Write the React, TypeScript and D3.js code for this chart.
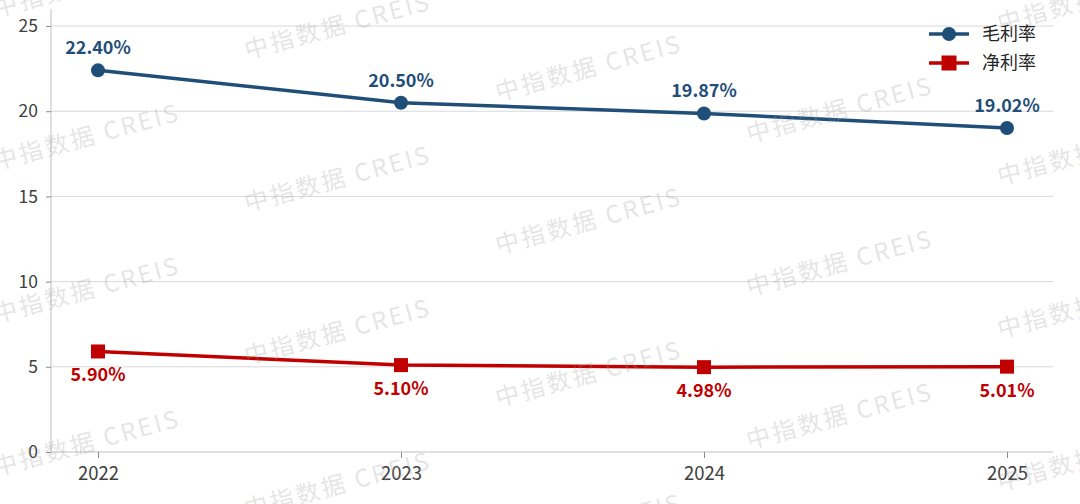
import React, { useRef, useEffect } from 'react';
import * as d3 from 'd3';

const years = ['2022', '2023', '2024', '2025'];
const grossMargin = [22.4, 20.5, 19.87, 19.02];
const netMargin = [5.9, 5.1, 4.98, 5.01];
const yTicks = [0, 5, 10, 15, 20, 25];
const seriesNames = ['毛利率', '净利率'];

const WIDTH = 1080;
const HEIGHT = 504;
const BLUE = '#1f4e79';
const RED = '#c00000';
const FONT = '"Noto Sans CJK SC", "Noto Sans", sans-serif';

const App: React.FC = () => {
  const svgRef = useRef<SVGSVGElement>(null);

  useEffect(() => {
    if (!svgRef.current) return;
    const svg = d3.select(svgRef.current);
    svg.selectAll('*').remove();

    const left = 51;
    const right = 1053;

    const x = d3.scalePoint<string>().domain(years).range([98, 1007]);
    const y = d3.scaleLinear().domain([0, 26]).range([452, 9]);

    svg.append('rect').attr('width', WIDTH).attr('height', HEIGHT).attr('fill', '#ffffff');

    // Grid lines
    svg
      .append('g')
      .selectAll('line')
      .data(yTicks.filter((t) => t > 0))
      .join('line')
      .attr('x1', left)
      .attr('x2', right)
      .attr('y1', (d) => y(d))
      .attr('y2', (d) => y(d))
      .attr('stroke', '#d9d9d9')
      .attr('stroke-width', 1);

    // Y axis
    const yAxis = d3
      .axisLeft(y)
      .tickValues(yTicks)
      .tickSize(5)
      .tickPadding(8)
      .tickFormat((d) => String(d));
    const yg = svg.append('g').attr('transform', `translate(${left},0)`).call(yAxis);
    yg.select('.domain').attr('stroke', '#bfbfbf').attr('d', `M0,${y(0)}V9`);
    yg.selectAll('.tick line').attr('stroke', '#8c8c8c');
    yg.selectAll('.tick text')
      .attr('fill', '#404040')
      .style('font-size', '17.5px')
      .style('font-family', FONT);

    // X axis
    const xAxis = d3.axisBottom(x).tickSize(6).tickPadding(9);
    const xg = svg.append('g').attr('transform', `translate(0,${y(0)})`).call(xAxis);
    xg.select('.domain').attr('stroke', '#bfbfbf').attr('d', `M${left},0H${right}`);
    xg.selectAll('.tick line').attr('stroke', '#8c8c8c');
    xg.selectAll('.tick text')
      .attr('fill', '#404040')
      .style('font-size', '18.5px')
      .style('font-family', FONT);

    const line = d3
      .line<number>()
      .x((_, i) => x(years[i]) as number)
      .y((d) => y(d));

    // Gross margin
    svg
      .append('path')
      .datum(grossMargin)
      .attr('d', line)
      .attr('fill', 'none')
      .attr('stroke', BLUE)
      .attr('stroke-width', 3.5);
    svg
      .append('g')
      .selectAll('circle')
      .data(grossMargin)
      .join('circle')
      .attr('cx', (_, i) => x(years[i]) as number)
      .attr('cy', (d) => y(d))
      .attr('r', 7)
      .attr('fill', BLUE);
    svg
      .append('g')
      .selectAll('text')
      .data(grossMargin)
      .join('text')
      .attr('x', (_, i) => x(years[i]) as number)
      .attr('y', (d) => y(d) - 16)
      .attr('text-anchor', 'middle')
      .attr('fill', BLUE)
      .style('font-size', '18px')
      .style('font-weight', 'bold')
      .style('font-family', FONT)
      .text((d) => `${d.toFixed(2)}%`);

    // Net margin
    svg
      .append('path')
      .datum(netMargin)
      .attr('d', line)
      .attr('fill', 'none')
      .attr('stroke', RED)
      .attr('stroke-width', 3.5);
    svg
      .append('g')
      .selectAll('rect')
      .data(netMargin)
      .join('rect')
      .attr('x', (_, i) => (x(years[i]) as number) - 7)
      .attr('y', (d) => y(d) - 7)
      .attr('width', 14)
      .attr('height', 14)
      .attr('fill', RED);
    svg
      .append('g')
      .selectAll('text')
      .data(netMargin)
      .join('text')
      .attr('x', (_, i) => x(years[i]) as number)
      .attr('y', (d) => y(d) + 30)
      .attr('text-anchor', 'middle')
      .attr('fill', RED)
      .style('font-size', '18px')
      .style('font-weight', 'bold')
      .style('font-family', FONT)
      .text((d) => `${d.toFixed(2)}%`);

    // Legend
    const legend = svg.append('g').attr('transform', 'translate(929,34)');
    seriesNames.forEach((name, i) => {
      const row = legend.append('g').attr('transform', `translate(0,${i * 29})`);
      const color = i === 0 ? BLUE : RED;
      row.append('line').attr('x1', 0).attr('x2', 40).attr('stroke', color).attr('stroke-width', 3.5);
      if (i === 0) {
        row.append('circle').attr('cx', 20).attr('r', 7).attr('fill', color);
      } else {
        row.append('rect').attr('x', 12.5).attr('y', -7.5).attr('width', 15).attr('height', 15).attr('fill', color);
      }
      row
        .append('text')
        .attr('x', 53)
        .attr('dy', '0.35em')
        .attr('fill', '#262626')
        .style('font-size', '18px')
        .style('font-family', FONT)
        .text(name);
    });

    // Watermark (repeated, partly cut at the edges like the original)
    const wm = svg.append('g').attr('pointer-events', 'none');
    for (let k = 0; k < 5; k++) {
      for (let j = -2; j < 4; j++) {
        const wx = -4 + 251 * k;
        const wy = 170 + 42 * k + 153 * j;
        wm.append('text')
          .attr('transform', `translate(${wx},${wy}) rotate(-15)`)
          .attr('fill', '#9a9a9a')
          .attr('fill-opacity', 0.27)
          .style('font-size', '24px')
          .style('letter-spacing', '2.5px')
          .style('font-family', FONT)
          .text('中指数据  CREIS');
      }
    }
  }, []);

  return (
    <svg
      ref={svgRef}
      width={WIDTH}
      height={HEIGHT}
      style={{ position: 'fixed', left: 0, top: 0, display: 'block' }}
    />
  );
};

export default App;
